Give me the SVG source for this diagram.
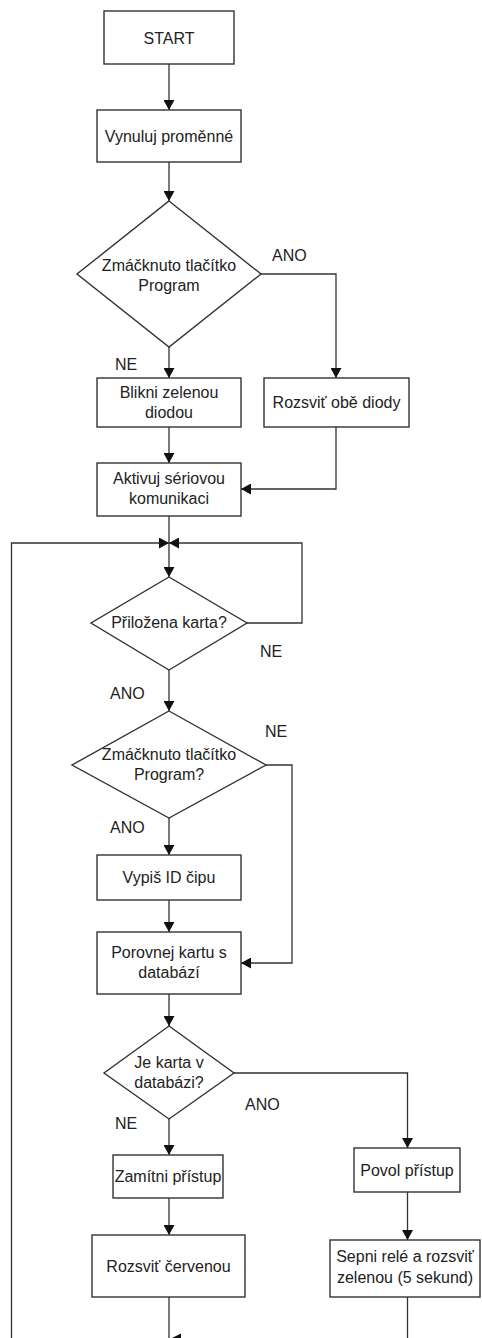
<svg xmlns="http://www.w3.org/2000/svg" width="482" height="1338" viewBox="0 0 482 1338">
<style>
.box{fill:#fff;stroke:#333;stroke-width:1.4}
.t{font-family:"Liberation Sans",Arial,sans-serif;font-size:16px;fill:#222;text-anchor:middle}
.l{font-family:"Liberation Sans",Arial,sans-serif;font-size:16px;fill:#222}
.c{fill:none;stroke:#333;stroke-width:1.3}
</style>
<defs>
<marker id="ah" markerUnits="userSpaceOnUse" markerWidth="11" markerHeight="11" refX="10" refY="5.5" orient="auto" viewBox="0 0 11 11">
<path d="M0,0 L10,5.5 L0,11 z" fill="#111"/>
</marker>
</defs>
<rect width="482" height="1338" fill="#fff"/>
<g id="connectors">
<path class="c" d="M169,64 V110" marker-end="url(#ah)"/>
<path class="c" d="M169,162 V201" marker-end="url(#ah)"/>
<path class="c" d="M261,274 H336 V378" marker-end="url(#ah)"/>
<path class="c" d="M169,347 V378" marker-end="url(#ah)"/>
<path class="c" d="M169,427 V463" marker-end="url(#ah)"/>
<path class="c" d="M336,427 V489 H241" marker-end="url(#ah)"/>
<path class="c" d="M169,516 V577" marker-end="url(#ah)"/>
<path class="c" d="M11.5,1340 V543 H169" marker-end="url(#ah)"/>
<path class="c" d="M247,623 H302 V543 H169" marker-end="url(#ah)"/>
<path class="c" d="M169,670 V711" marker-end="url(#ah)"/>
<path class="c" d="M266,765 H292 V963 H241" marker-end="url(#ah)"/>
<path class="c" d="M169,818 V855" marker-end="url(#ah)"/>
<path class="c" d="M169,900 V932" marker-end="url(#ah)"/>
<path class="c" d="M169,994 V1026" marker-end="url(#ah)"/>
<path class="c" d="M234,1073 H407.5 V1148" marker-end="url(#ah)"/>
<path class="c" d="M169,1119 V1155" marker-end="url(#ah)"/>
<path class="c" d="M169,1198 V1235" marker-end="url(#ah)"/>
<path class="c" d="M407.5,1192 V1240" marker-end="url(#ah)"/>
<path class="c" d="M169,1297 V1340"/>
<path class="c" d="M407.5,1297 V1340"/>
<path d="M170,1339 L181,1333.5 L181,1344.5 z" fill="#111"/>
</g>
<g id="start"><rect class="box" x="104" y="11" width="130" height="53"/><text class="t" x="169" y="44">START</text></g>
<g id="vynuluj"><rect class="box" x="97" y="110" width="144" height="52"/><text class="t" x="169" y="142">Vynuluj proměnné</text></g>
<g id="d_program1"><polygon class="box" points="169,201 261,274 169,347 77,274"/><text class="t" x="169" y="271">Zmáčknuto tlačítko</text><text class="t" x="169" y="291">Program</text></g>
<g id="blikni"><rect class="box" x="97" y="378" width="144" height="49"/><text class="t" x="169" y="398">Blikni zelenou</text><text class="t" x="169" y="418">diodou</text></g>
<g id="rozsvit_obe"><rect class="box" x="264" y="378" width="145" height="49"/><text class="t" x="336.5" y="408">Rozsviť obě diody</text></g>
<g id="aktivuj"><rect class="box" x="97" y="463" width="144" height="53"/><text class="t" x="169" y="484">Aktivuj sériovou</text><text class="t" x="169" y="504">komunikaci</text></g>
<g id="d_karta"><polygon class="box" points="169,577 247,623 169,670 91,623"/><text class="t" x="169" y="628">Přiložena karta?</text></g>
<g id="d_program2"><polygon class="box" points="169,711 266,765 169,818 72,765"/><text class="t" x="169" y="760">Zmáčknuto tlačítko</text><text class="t" x="169" y="780">Program?</text></g>
<g id="vypis"><rect class="box" x="97" y="855" width="144" height="45"/><text class="t" x="169" y="883">Vypiš ID čipu</text></g>
<g id="porovnej"><rect class="box" x="97" y="932" width="144" height="62"/><text class="t" x="169" y="958">Porovnej kartu s</text><text class="t" x="169" y="978">databází</text></g>
<g id="d_databaze"><polygon class="box" points="169,1026 234,1073 169,1119 104,1073"/><text class="t" x="169" y="1068">Je karta v</text><text class="t" x="169" y="1088">databázi?</text></g>
<g id="zamitni"><rect class="box" x="113" y="1155" width="110" height="43"/><text class="t" x="168" y="1182">Zamítni přístup</text></g>
<g id="povol"><rect class="box" x="354" y="1148" width="106" height="44"/><text class="t" x="407" y="1176">Povol přístup</text></g>
<g id="rozsvit_cervenou"><rect class="box" x="92" y="1235" width="153" height="62"/><text class="t" x="168.5" y="1272">Rozsviť červenou</text></g>
<g id="sepni"><rect class="box" x="330" y="1240" width="150" height="57"/><text class="t" x="405" y="1262">Sepni relé a rozsviť</text><text class="t" x="405" y="1283">zelenou (5 sekund)</text></g>
<g id="labels">
<text class="l" x="272" y="261">ANO</text>
<text class="l" x="115" y="370">NE</text>
<text class="l" x="260" y="657">NE</text>
<text class="l" x="110" y="699">ANO</text>
<text class="l" x="265" y="737">NE</text>
<text class="l" x="110" y="833">ANO</text>
<text class="l" x="245" y="1110">ANO</text>
<text class="l" x="115" y="1129">NE</text>
</g>
</svg>
